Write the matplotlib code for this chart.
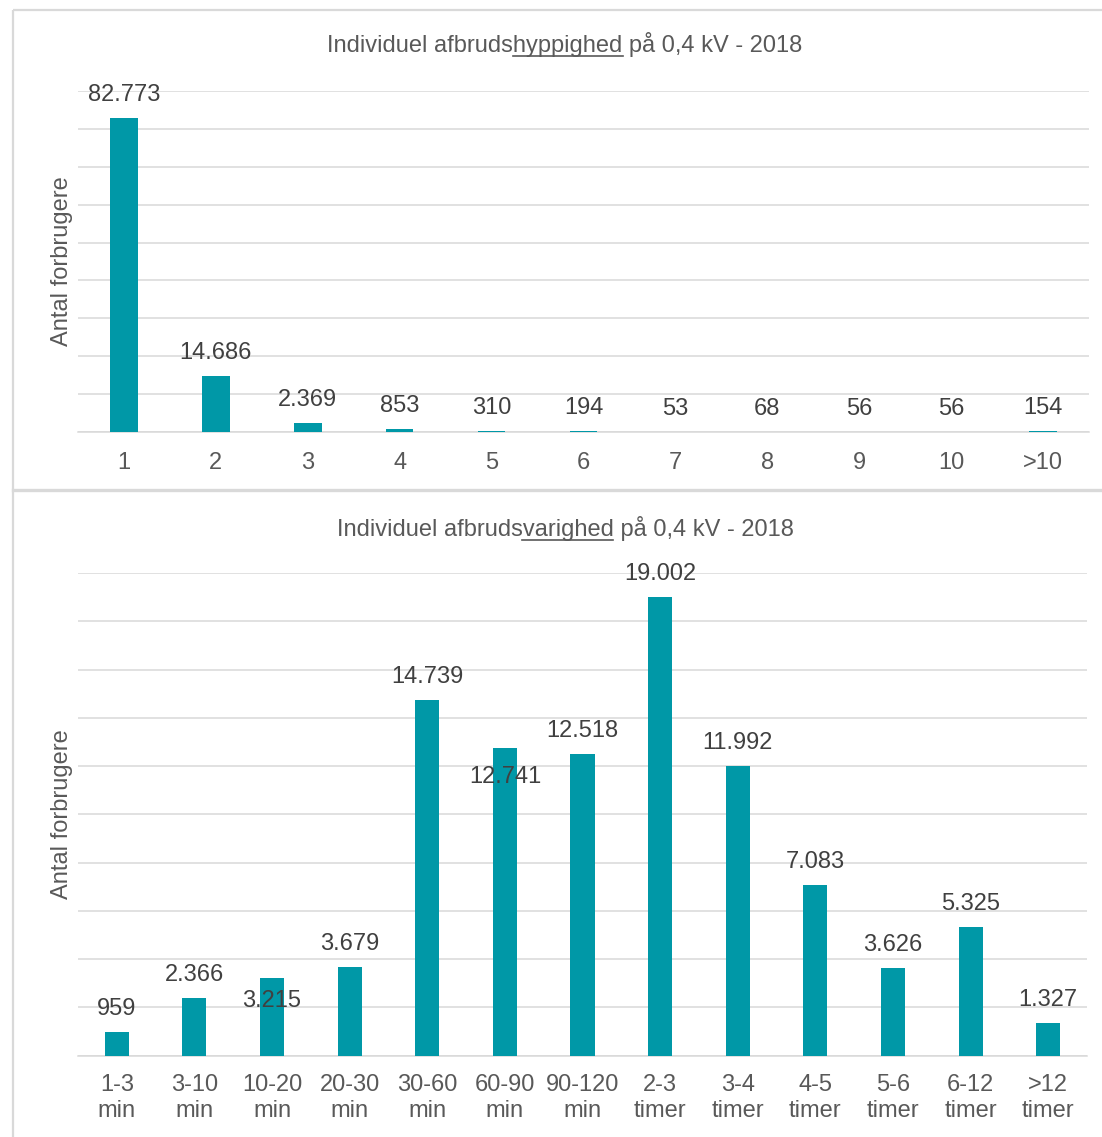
import matplotlib
matplotlib.use("Agg")
import matplotlib.pyplot as plt
from matplotlib.lines import Line2D
from matplotlib.ticker import MultipleLocator

# ---- data ----
freq_categories = ["1", "2", "3", "4", "5", "6", "7", "8", "9", "10", ">10"]
freq_values = [82773, 14686, 2369, 853, 310, 194, 53, 68, 56, 56, 154]

dur_categories = ["1-3\nmin", "3-10\nmin", "10-20\nmin", "20-30\nmin", "30-60\nmin",
                  "60-90\nmin", "90-120\nmin", "2-3\ntimer", "3-4\ntimer", "4-5\ntimer",
                  "5-6\ntimer", "6-12\ntimer", ">12\ntimer"]
dur_values = [959, 2366, 3215, 3679, 14739, 12741, 12518, 19002, 11992, 7083, 3626, 5325, 1327]

freq_title = ("Individuel afbruds", "hyppighed", " på 0,4 kV - 2018")
dur_title = ("Individuel afbruds", "varighed", " på 0,4 kV - 2018")
ylabel = "Antal forbrugere"

# ---- style ----
W, H = 1102, 1137
DPI = 100
BAR = "#0098A7"
GRID = "#D9D9D9"
TXT = "#595959"
LBL = "#404040"
FONT = "Liberation Sans"
FS = 17

plt.rcParams["font.family"] = [FONT, "DejaVu Sans"]

fig = plt.figure(figsize=(W / DPI, H / DPI), dpi=DPI)


def fx(px):
    return px / W


def fy(py):
    return 1 - py / H


def thousands(v):
    return f"{v:,}".replace(",", ".")


def make_axes(left, right, top, bottom):
    return fig.add_axes([fx(left), fy(bottom), fx(right - left), (bottom - top) / H])


def style_axes(ax, ymax, step, pad):
    ax.set_ylim(0, ymax)
    ax.yaxis.set_major_locator(MultipleLocator(step))
    ax.grid(axis="y", color=GRID, lw=1.1)
    ax.set_axisbelow(True)
    for s in ["top", "right", "left"]:
        ax.spines[s].set_visible(False)
    ax.spines["bottom"].set_color(GRID)
    ax.spines["bottom"].set_linewidth(1.1)
    ax.tick_params(axis="y", left=False, labelleft=False)
    ax.tick_params(axis="x", bottom=False, labelsize=FS, labelcolor=TXT, pad=pad)
    ax.set_ylabel(ylabel, fontsize=17, color=TXT)
    ax.yaxis.set_label_coords(-5 / ax.get_position().width / W, 0.5)


def bar_panel(ax, cats, vals, width, nudges):
    x = list(range(len(cats)))
    ax.bar(x, vals, width=width, color=BAR, linewidth=0, zorder=3)
    ax.set_xlim(-0.5, len(cats) - 0.5)
    ax.set_xticks(x)
    ax.set_xticklabels(cats, linespacing=1.22)
    for xi, c, v in zip(x, cats, vals):
        off = nudges.get(c, 17)
        ax.annotate(thousands(v), (xi, v), xytext=(0, off * 72 / DPI),
                    textcoords="offset points", ha="center", va="baseline",
                    fontsize=FS, color=LBL, zorder=4)


# top panel: frequency
ax1 = make_axes(78, 1089, 91, 432)
bar_panel(ax1, freq_categories, freq_values, 0.30, {})
style_axes(ax1, 90000, 10000, 11)

# bottom panel: duration
ax2 = make_axes(78, 1087, 573, 1055.5)
bar_panel(ax2, dur_categories, dur_values, 0.31, {"10-20\nmin": -28.7, "60-90\nmin": -35})
style_axes(ax2, 20000, 2000, 10)


def underlined_title(parts, cx, baseline):
    full = "".join(parts)
    t = fig.text(fx(cx), fy(baseline), full, ha="center", va="baseline",
                 fontsize=FS, color=TXT)
    fig.canvas.draw()
    r = fig.canvas.get_renderer()
    bb = t.get_window_extent(r)

    def width(s):
        tmp = fig.text(0, 0, s, fontsize=FS)
        w = tmp.get_window_extent(r).width
        tmp.remove()
        return w

    x0 = bb.x0 + width(parts[0])
    x1 = bb.x0 + width(parts[0] + parts[1])
    yu = fy(baseline + 4)
    fig.add_artist(Line2D([x0 / W, x1 / W], [yu, yu], color=TXT, lw=1.2,
                          transform=fig.transFigure))


underlined_title(freq_title, 565, 52)
underlined_title(dur_title, 565, 536)

# panel frames
frame = dict(color=GRID, lw=1.6, transform=fig.transFigure, solid_capstyle="butt")
fig.add_artist(Line2D([fx(13), 1], [fy(10), fy(10)], **frame))
fig.add_artist(Line2D([fx(13), fx(13)], [fy(10), 0], **frame))
fig.add_artist(Line2D([fx(13), 1], [fy(490.5), fy(490.5)], color=GRID, lw=2.4,
                      transform=fig.transFigure))

fig.savefig("out.png", dpi=DPI, facecolor="white")
